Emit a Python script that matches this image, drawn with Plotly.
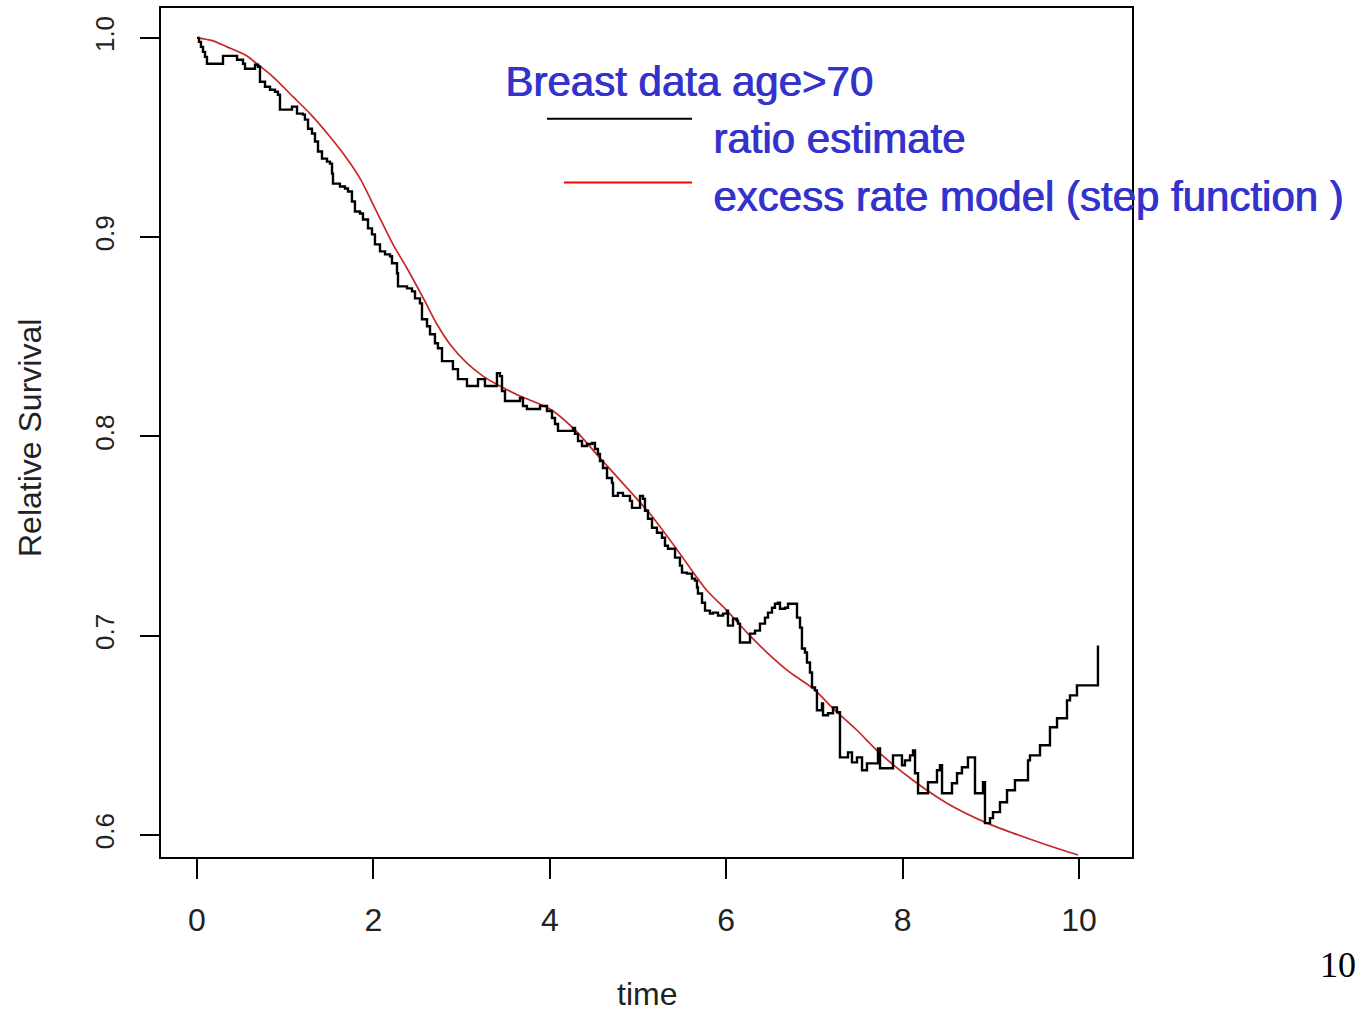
import plotly.graph_objects as go

# ratio estimate (step function)
ratio_time = [0, 0.023, 0.045, 0.068, 0.091, 0.113, 0.295, 0.454, 0.522, 0.544, 0.658, 0.692, 0.714,
              0.771, 0.828, 0.884, 0.918, 0.941, 1.077, 1.134, 1.202, 1.224, 1.259, 1.304, 1.338, 1.372,
              1.417, 1.474, 1.508, 1.531, 1.542, 1.621, 1.678, 1.712, 1.757, 1.791, 1.848, 1.882, 1.939,
              1.984, 2.018, 2.075, 2.132, 2.188, 2.211, 2.268, 2.279, 2.381, 2.438, 2.472, 2.528, 2.551,
              2.608, 2.642, 2.698, 2.732, 2.778, 2.902, 2.959, 3.061, 3.186, 3.265, 3.401, 3.435, 3.458,
              3.492, 3.662, 3.696, 3.741, 3.889, 3.968, 4.025, 4.059, 4.093, 4.263, 4.286, 4.320, 4.365,
              4.422, 4.478, 4.512, 4.546, 4.569, 4.603, 4.649, 4.705, 4.717, 4.773, 4.830, 4.909, 4.932,
              5.023, 5.057, 5.079, 5.113, 5.159, 5.215, 5.272, 5.306, 5.340, 5.420, 5.476, 5.499, 5.556,
              5.612, 5.646, 5.669, 5.680, 5.726, 5.760, 5.816, 5.850, 5.907, 5.964, 6.009, 6.020, 6.077,
              6.122, 6.134, 6.156, 6.270, 6.327, 6.383, 6.440, 6.474, 6.519, 6.553, 6.587, 6.610, 6.667,
              6.701, 6.803, 6.837, 6.859, 6.893, 6.916, 6.950, 6.973, 7.007, 7.029, 7.086, 7.098, 7.154,
              7.211, 7.256, 7.290, 7.381, 7.426, 7.483, 7.540, 7.596, 7.721, 7.744, 7.891, 7.993, 8.027,
              8.084, 8.118, 8.141, 8.175, 8.288, 8.390, 8.424, 8.447, 8.560, 8.617, 8.673, 8.741, 8.821,
              8.912, 8.934, 8.991, 9.025, 9.104, 9.184, 9.274, 9.422, 9.444, 9.558, 9.671, 9.751, 9.864,
              9.898, 9.977, 10.215]
ratio_surv = [1.0, 0.998, 0.9955, 0.993, 0.9905, 0.987, 0.991, 0.989, 0.987, 0.9845, 0.9865, 0.9855, 0.978,
              0.9755, 0.974, 0.973, 0.9715, 0.964, 0.9655, 0.962, 0.9615, 0.959, 0.9544, 0.952, 0.948, 0.943,
              0.9394, 0.9379, 0.9369, 0.9319, 0.9269, 0.9254, 0.9244, 0.9229, 0.9179, 0.9129, 0.9119, 0.9089, 0.9044,
              0.9014, 0.8964, 0.8929, 0.8914, 0.8904, 0.8869, 0.8819, 0.8753, 0.8743, 0.8728, 0.8693, 0.8668, 0.8588,
              0.8553, 0.8513, 0.8468, 0.8443, 0.8378, 0.8338, 0.8288, 0.8253, 0.8288, 0.8253, 0.8318, 0.8303, 0.8228,
              0.8178, 0.8193, 0.8153, 0.8138, 0.8153, 0.8128, 0.8093, 0.8063, 0.8028, 0.8043, 0.8013, 0.7977, 0.7952,
              0.7962, 0.7967, 0.7937, 0.7912, 0.7877, 0.7842, 0.7792, 0.7767, 0.7702, 0.7717, 0.7702, 0.7677, 0.7642,
              0.7702, 0.7687, 0.7627, 0.7587, 0.7542, 0.7517, 0.7492, 0.7452, 0.7437, 0.7392, 0.7352, 0.7317, 0.7312,
              0.7287, 0.7277, 0.7242, 0.7212, 0.7166, 0.7126, 0.7111, 0.7116, 0.7101, 0.7111, 0.7126, 0.7051, 0.7086,
              0.7076, 0.7061, 0.6966, 0.7011, 0.7026, 0.7061, 0.7091, 0.7116, 0.7141, 0.7161, 0.7166, 0.7136, 0.7141,
              0.7161, 0.7091, 0.7041, 0.6936, 0.6916, 0.6866, 0.6816, 0.6741, 0.6726, 0.6626, 0.6661, 0.6601, 0.6611,
              0.6641, 0.6616, 0.6390, 0.6415, 0.6365, 0.6390, 0.6325, 0.6360, 0.6435, 0.6335, 0.6400, 0.6350, 0.6375,
              0.6400, 0.6425, 0.6310, 0.6210, 0.6265, 0.6325, 0.6350, 0.6210, 0.6260, 0.6310, 0.6340, 0.6390, 0.6210,
              0.6265, 0.6060, 0.6085, 0.6115, 0.6165, 0.6225, 0.6275, 0.6375, 0.6400, 0.6451, 0.6541, 0.6586, 0.6676,
              0.6701, 0.6751, 0.6951]

# excess rate model (step function) - smooth curve
model_time = [0, 0.181, 0.340, 0.544, 0.680, 0.862, 1.088, 1.281, 1.508, 1.701, 1.848, 2.041, 2.222, 2.381,
              2.585, 2.721, 2.868, 3.061, 3.243, 3.435, 3.662, 4.002, 4.263, 4.569, 4.875, 5.136, 5.476, 5.556,
              5.782, 6.009, 6.236, 6.463, 6.723, 6.984, 7.211, 7.483, 7.744, 8.118, 8.503, 8.957, 9.252, 9.637,
              9.989]
model_surv = [1.0, 0.9985, 0.9955, 0.9915, 0.987, 0.9805, 0.9705, 0.962, 0.9504, 0.9394, 0.9295, 0.9125, 0.8964,
              0.8844, 0.8678, 0.8563, 0.8463, 0.8368, 0.8303, 0.8253, 0.8203, 0.8138, 0.8043, 0.7892, 0.7742, 0.7612,
              0.7412, 0.7362, 0.7227, 0.7126, 0.7016, 0.6916, 0.6816, 0.6736, 0.6636, 0.6526, 0.6410, 0.6275, 0.6160,
              0.6060, 0.6010, 0.5950, 0.5900]

x_ticks = [0, 2, 4, 6, 8, 10]
y_ticks = [0.6, 0.7, 0.8, 0.9, 1.0]

title_text = "Breast data age>70"
legend_labels = ["ratio estimate", "excess rate model (step function )"]
page_number = "10"

W, H = 1360, 1015
L, R, T, B = 161, 1132, 6, 857  # plot area pixels


def px(x):
    return (x - L) / (R - L)


def py(y):
    return (B - y) / (B - T)


SANS = "Liberation Sans, Arial, sans-serif"
BLUE = "#3333CC"
BLUE_FONT = dict(family=SANS, size=42, color=BLUE, shadow="1px 0px 0px #3333CC")

fig = go.Figure()
fig.add_trace(go.Scatter(x=model_time, y=model_surv, mode="lines",
                         line=dict(color="#c62828", width=1.7, shape="spline", smoothing=0.8),
                         showlegend=False, hoverinfo="skip"))
fig.add_trace(go.Scatter(x=ratio_time, y=ratio_surv, mode="lines",
                         line=dict(color="black", width=2.4, shape="hv"),
                         showlegend=False, hoverinfo="skip"))

fig.update_layout(
    width=W, height=H,
    margin=dict(l=L, r=W - R, t=T, b=H - B),
    paper_bgcolor="white", plot_bgcolor="white",
    showlegend=False,
    xaxis=dict(range=[-0.408, 10.601], tickvals=x_ticks, ticktext=[str(v) for v in x_ticks],
               showgrid=False, zeroline=False, showline=True, mirror=True,
               linecolor="black", linewidth=2, ticks="outside", ticklen=20, tickwidth=1.5,
               tickcolor="black", ticklabelstandoff=14,
               tickfont=dict(family=SANS, size=32, color="#222")),
    yaxis=dict(range=[0.589, 1.015], tickvals=y_ticks, ticktext=[f"{v:.1f}" for v in y_ticks],
               showgrid=False, zeroline=False, showline=True, mirror=True,
               linecolor="black", linewidth=2, ticks="outside", ticklen=19, tickwidth=1.5,
               tickcolor="black", tickangle=-90, ticklabelstandoff=16,
               tickfont=dict(family=SANS, size=26, color="#222")),
)

annotations = [
    dict(text="time", x=0.5, y=py(1014), xref="paper", yref="paper",
         xanchor="center", yanchor="bottom", showarrow=False,
         font=dict(family=SANS, size=32, color="#222")),
    dict(text="Relative Survival", x=px(30), y=py(437), xref="paper", yref="paper",
         xanchor="center", yanchor="middle", showarrow=False, textangle=-90,
         font=dict(family=SANS, size=32, color="#222")),
    dict(text=title_text, x=px(503), y=py(80), xref="paper", yref="paper",
         xanchor="left", yanchor="middle", showarrow=False, font=BLUE_FONT),
    dict(text=legend_labels[0], x=px(711), y=py(137), xref="paper", yref="paper",
         xanchor="left", yanchor="middle", showarrow=False, font=BLUE_FONT),
    dict(text=legend_labels[1], x=px(711), y=py(195), xref="paper", yref="paper",
         xanchor="left", yanchor="middle", showarrow=False, font=BLUE_FONT),
    dict(text=page_number, x=px(1338), y=py(965), xref="paper", yref="paper",
         xanchor="center", yanchor="middle", showarrow=False,
         font=dict(family="Liberation Serif, Times New Roman, serif", size=36, color="black")),
]
fig.update_layout(annotations=annotations)

fig.add_shape(type="line", xref="paper", yref="paper", x0=px(547), x1=px(692), y0=py(117), y1=py(117),
              line=dict(color="black", width=2))
fig.add_shape(type="line", xref="paper", yref="paper", x0=px(564), x1=px(692), y0=py(181), y1=py(181),
              line=dict(color="red", width=2))

fig.write_html("out.html", config={"displayModeBar": False},
               post_script="document.body.style.margin='0px';document.body.style.overflow='hidden';")
